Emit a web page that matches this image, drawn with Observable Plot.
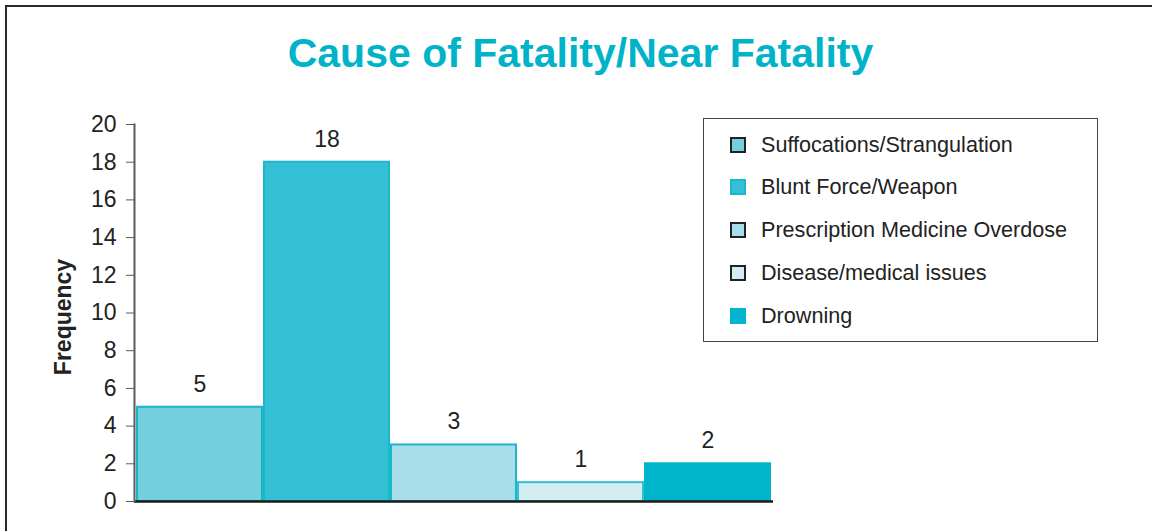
<!DOCTYPE html>
<html>
<head>
<meta charset="utf-8">
<script src="https://cdn.jsdelivr.net/npm/d3@7"></script>
<script src="https://cdn.jsdelivr.net/npm/@observablehq/plot@0.6"></script>
<style>
  html, body { margin: 0; padding: 0; background: #fff; }
  body { font-family: "Liberation Sans", Arial, Helvetica, sans-serif; }
  #wrap { position: relative; width: 1152px; height: 531px; overflow: hidden; background: #fff; }
  #frame { position: absolute; left: 5px; top: 5px; width: 1160px; height: 560px;
           border-top: 2.5px solid #2a2a2a; border-left: 2.5px solid #2a2a2a; box-sizing: border-box; pointer-events: none; }
  #title { height: 96px; box-sizing: border-box; padding-top: 33px; padding-left: 9px; text-align: center;
           font-size: 41px; line-height: 41px; font-weight: bold; color: #00b3c9; }
  #chart svg { display: block; }
  #legend { position: absolute; left: 703px; top: 118px; width: 395px; height: 224px; box-sizing: border-box;
            border: 1.5px solid #444; padding-top: 4.5px; }
  .item { position: relative; height: 42.8px; font-size: 21.6px; color: #222; }
  .sw { position: absolute; left: 26px; top: 13px; width: 16px; height: 16px; box-sizing: border-box; }
  .lab { position: absolute; left: 57px; top: 0; line-height: 42.8px; white-space: nowrap; }
</style>
</head>
<body>
<div id="wrap">
  <div id="title"></div>
  <div id="chart"></div>
  <div id="legend"></div>
  <div id="frame"></div>
</div>
<script>
const titleText = "Cause of Fatality/Near Fatality";
const yLabel = "Frequency";
const categories = [
  "Suffocations/Strangulation",
  "Blunt Force/Weapon",
  "Prescription Medicine Overdose",
  "Disease/medical issues",
  "Drowning"
];
const values = [5, 18, 3, 1, 2];
const yTicks = [0, 2, 4, 6, 8, 10, 12, 14, 16, 18, 20];
const fillColors = ["#74cfdd", "#33bfd4", "#a6dde8", "#d3edf3", "#00b4cb"];
const strokeColors = ["#14b6ca", "#1bb8cc", "#1ab8cc", "#33c0d2", "#00b4cb"];
const swatchBorders = ["#222", "#1bb8cc", "#222", "#222", "#00b4cb"];

const data = categories.map((c, i) => ({cause: c, value: values[i], i}));

document.getElementById("title").textContent = titleText;

const chart = Plot.plot({
  width: 1152,
  height: 435,
  marginLeft: 134,
  marginRight: 379,
  marginTop: 28,
  marginBottom: 30,
  style: {fontFamily: '"Liberation Sans", Arial, sans-serif', color: "#222", background: "transparent"},
  x: {domain: categories, padding: 0, axis: null},
  y: {domain: [0, 20], axis: null},
  color: {type: "identity"},
  marks: [
    Plot.barY(data, {x: "cause", y: "value", fill: d => fillColors[d.i], stroke: d => strokeColors[d.i], strokeWidth: 2, insetLeft: 1, insetRight: 1}),
    Plot.ruleY([0], {stroke: "#1a1a1a", strokeWidth: 2.5}),
    Plot.frame({anchor: "left", stroke: "#5a5a5a", strokeWidth: 2}),
    Plot.axisY({ticks: yTicks, tickSize: 8, tickPadding: 10, fontSize: 23, stroke: "#5a5a5a", fill: "#222", label: null}),
    Plot.text(data, {x: "cause", y: "value", text: d => String(d.value), dy: -23, fontSize: 23, fill: "#222"}),
    Plot.text([yLabel], {frameAnchor: "left", textAnchor: "middle", rotate: -90, dx: -71, dy: 4, fontSize: 23, fontWeight: "bold", fill: "#222"})
  ]
});
document.getElementById("chart").appendChild(chart);

const legend = document.getElementById("legend");
categories.forEach((c, i) => {
  const row = document.createElement("div");
  row.className = "item";
  const sw = document.createElement("div");
  sw.className = "sw";
  sw.style.background = fillColors[i];
  sw.style.border = "2px solid " + swatchBorders[i];
  const lab = document.createElement("div");
  lab.className = "lab";
  lab.textContent = c;
  row.appendChild(sw);
  row.appendChild(lab);
  legend.appendChild(row);
});
</script>
</body>
</html>
